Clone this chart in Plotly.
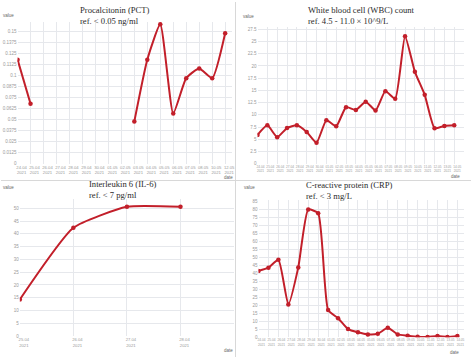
import plotly.graph_objects as go

# ---------------- data ----------------
pct_dates = ["24.04", "25.04", "26.04", "27.04", "28.04", "29.04", "30.04", "01.05", "02.05",
             "03.05", "04.05", "05.05", "06.05", "07.05", "08.05", "10.05", "12.05"]
pct_values = [0.118, 0.068, None, None, None, None, None, None, None,
              0.048, 0.118, 0.158, 0.057, 0.097, 0.108, 0.097, 0.148]
pct_ticks = [0, 0.0125, 0.025, 0.0375, 0.05, 0.0625, 0.075, 0.0875, 0.1, 0.1125, 0.125, 0.1375, 0.15]

wbc_dates = ["24.04", "25.04", "26.04", "27.04", "28.04", "29.04", "30.04", "01.05", "02.05", "03.05",
             "04.05", "05.05", "06.05", "07.05", "08.05", "09.05", "10.05", "11.05", "12.05", "13.05", "14.05"]
wbc_values = [5.9, 7.86, 5.44, 7.3, 7.86, 6.5, 4.3, 8.87, 7.66, 11.56, 11.0,
              12.7, 10.9, 14.85, 13.3, 26.1, 18.8, 14.1, 7.26, 7.73, 7.86]
wbc_ticks = [0, 2.5, 5, 7.5, 10, 12.5, 15, 17.5, 20, 22.5, 25, 27.5]

il6_dates = ["25.04", "26.04", "27.04", "28.04"]
il6_values = [14.3, 42.4, 50.6, 50.6]
il6_ticks = [0, 5, 10, 15, 20, 25, 30, 35, 40, 45, 50]

crp_dates = ["24.04", "25.04", "26.04", "27.04", "28.04", "29.04", "30.04", "01.05", "02.05", "03.05",
             "04.05", "05.05", "06.05", "07.05", "08.05", "09.05", "10.05", "11.05", "12.05", "13.05", "14.05"]
crp_values = [41.4, 43.4, 48.4, 20.5, 43.6, 79.7, 77.3, 17.0, 11.9, 5.1, 3.1,
              1.8, 2.2, 5.9, 1.8, 1.0, 0.3, 0.2, 0.8, 0.2, 0.8]
crp_ticks = list(range(0, 90, 5))

titles = [("Procalcitonin (PCT)", "ref. < 0.05 ng/ml"),
          ("White blood cell (WBC) count", "ref. 4.5 - 11.0 × 10^9/L"),
          ("Interleukin 6 (IL-6)", "ref. < 7 pg/ml"),
          ("C-reactive protein (CRP)", "ref. < 3 mg/L")]

# ---------------- layout helpers ----------------
W, H = 474, 360
RED = "#c21f2a"
GRID = "#e6e8ec"
TICKC = "#9a9a9a"

def px_x(p):
    return p / W

def px_y(p):
    return 1 - p / H

fig = go.Figure()

panels = [
    dict(d=pct_dates, v=pct_values, yt=pct_ticks, x0=16.7, x1=232.6, xr=[0, 16.5],
         yb=164, ytp=20, yr=[0, 0.161], xf=4.2, shift=4,
         tx=79, ty=13.7, vx=8, vy=14, dx=229, dy=178),
    dict(d=wbc_dates, v=wbc_values, yt=wbc_ticks, x0=258.7, x1=467, xr=[0, 21],
         yb=164, ytp=25.2, yr=[0, 28], xf=3.2, shift=3,
         tx=309, ty=13.3, vx=250, vy=15, dx=458, dy=177),
    dict(d=il6_dates, v=il6_values, yt=il6_ticks, x0=19, x1=235, xr=[0, 4],
         yb=338.7, ytp=200.2, yr=[0, 53.5], xf=4.2, shift=4,
         tx=88, ty=190.5, vx=8, vy=188, dx=229, dy=353),
    dict(d=crp_dates, v=crp_values, yt=crp_ticks, x0=259.7, x1=467.3, xr=[0, 20.7],
         yb=340, ytp=201, yr=[0, 85.5], xf=3.2, shift=3,
         tx=307, ty=191.5, vx=251, vy=188, dx=457, dy=355),
]

layout = dict(width=W, height=H, margin=dict(l=0, r=0, t=0, b=0),
              paper_bgcolor="white", plot_bgcolor="white", showlegend=False,
              annotations=[], shapes=[])

for i, p in enumerate(panels, start=1):
    xa = "x" if i == 1 else f"x{i}"
    ya = "y" if i == 1 else f"y{i}"
    fig.add_trace(go.Scatter(
        x=p["d"], y=p["v"], xaxis=xa, yaxis=ya, mode="lines+markers",
        line=dict(color=RED, width=2, shape="spline", smoothing=0.5),
        marker=dict(color=RED, size=4.5), connectgaps=False))
    layout[f"xaxis{'' if i == 1 else i}"] = dict(
        domain=[px_x(p["x0"]), px_x(p["x1"])], anchor=ya, type="category",
        range=p["xr"], showgrid=True, gridcolor=GRID, gridwidth=1, zeroline=False,
        showline=False, tickvals=p["d"], ticktext=[s + "<br>2021" for s in p["d"]],
        tickangle=0, ticklabelshift=p["shift"], ticks="",
        tickfont=dict(size=p["xf"], color=TICKC, family="Liberation Sans"))
    layout[f"yaxis{'' if i == 1 else i}"] = dict(
        domain=[px_y(p["yb"]), px_y(p["ytp"])], anchor=xa, range=p["yr"],
        showgrid=True, gridcolor=GRID, gridwidth=1, zeroline=False, showline=False,
        tickvals=p["yt"], ticktext=[f"{t:g}" for t in p["yt"]], ticks="",
        tickfont=dict(size=4.5, color=TICKC, family="Liberation Sans"))
    t1, t2 = titles[i - 1]
    layout["annotations"].append(dict(
        text=t1 + "<br>" + t2, x=px_x(p["tx"]), y=px_y(p["ty"]), xref="paper", yref="paper",
        xanchor="left", yanchor="middle", showarrow=False, align="left",
        borderpad=0,
        font=dict(family="Liberation Serif", size=8.6, color="#2a2a2a", weight="normal")))
    layout["annotations"].append(dict(
        text="value", x=px_x(p["vx"]), y=px_y(p["vy"]), xref="paper", yref="paper",
        xanchor="center", yanchor="middle", showarrow=False,
        font=dict(family="Liberation Sans", size=4.5, color="#666")))
    layout["annotations"].append(dict(
        text="date", x=px_x(p["dx"]), y=px_y(p["dy"]), xref="paper", yref="paper",
        xanchor="center", yanchor="middle", showarrow=False,
        font=dict(family="Liberation Sans", size=4.5, color="#666")))

# thin panel separators
layout["shapes"].append(dict(type="line", xref="paper", yref="paper",
                             x0=px_x(236.5), x1=px_x(236.5), y0=0, y1=1,
                             line=dict(color="#d8d8d8", width=1)))
layout["shapes"].append(dict(type="line", xref="paper", yref="paper",
                             x0=0, x1=1, y0=px_y(181), y1=px_y(181),
                             line=dict(color="#d8d8d8", width=1)))

fig.update_layout(**layout)
fig.write_html("out.html", config={"displayModeBar": False},
               post_script="document.body.style.margin='0';document.body.style.overflow='hidden';")
